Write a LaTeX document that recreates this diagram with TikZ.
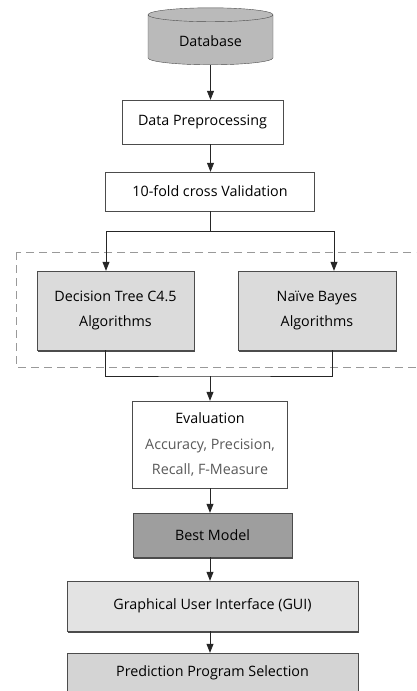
\documentclass[tikz,border=0pt]{standalone}
\usepackage{fontspec}
\setmainfont{Open Sans}
\usetikzlibrary{shapes.geometric,arrows.meta,shadows}

\begin{document}
\begin{tikzpicture}[x=1pt,y=-1pt,
    font=\fontsize{14.3}{25.5}\selectfont,
    box/.style={draw=black!70,rectangle,align=center,inner sep=2pt},
    boxshadow/.style={drop shadow={shadow xshift=.8pt,shadow yshift=-1.6pt,fill=black!70,opacity=1}},
    arr/.style={-{Triangle[length=9pt,width=7pt]},black!85,thick}]
    \path[use as bounding box,clip] (0,0) rectangle (416,691);

    \node[cylinder,shape border rotate=90,draw=black!70,fill=black!27,minimum width=125pt,minimum height=57pt,aspect=0.2] (db) at (210.5,41) {Database};
    \node[box,minimum width=161pt,minimum height=44pt] (prep) at (202.5,122) {Data Preprocessing};
    \node[box,minimum width=209pt,minimum height=39pt] (cv) at (210,191.5) {10-fold cross Validation};

    % the two learners
    \draw[dashed,gray!80,dash pattern=on 8pt off 5pt,thick] (16,252) rectangle (430,367);
    \node[box,boxshadow,fill=black!14,minimum width=157pt,minimum height=79pt] (dt) at (115.5,310.5) {Decision Tree C4.5\\Algorithms};
    \node[box,boxshadow,fill=black!14,minimum width=158pt,minimum height=79pt] (nb) at (317,310.5) {Na\"ive Bayes\\Algorithms};

    \node[box,minimum width=155pt,minimum height=87pt] (eval) at (210,444.5) {Evaluation\\{\color{black!65}Accuracy, Precision,}\\{\color{black!65}Recall, F-Measure}};
    \node[box,boxshadow,fill=black!38,minimum width=159pt,minimum height=44pt] (best) at (212.5,535) {Best Model};
    \node[box,boxshadow,fill=black!11,minimum width=291pt,minimum height=50pt] (gui) at (212.5,606) {Graphical User Interface (GUI)};
    \node[box,fill=black!17,minimum width=291pt,minimum height=40pt] (pred) at (212.5,673) {Prediction Program Selection};

    \coordinate (split) at (210,231);
    \coordinate (merge) at (210,376);

    \draw[arr] (db.south) -- (db.south |- prep.north);
    \draw[arr] (db.south |- prep.south) -- (db.south |- cv.north);
    \draw[black!85,thick] (cv.south) -- (split);
    \draw[arr] (split) -| ([xshift=-9.5pt]dt.north);
    \draw[arr] (split) -| ([xshift=17pt]nb.north);
    \draw[black!85,thick] ([xshift=-10.5pt]dt.south) |- (merge) -| ([xshift=15pt]nb.south);
    \draw[arr] (merge) -- (eval.north);
    \draw[arr] (eval.south) -- (eval.south |- best.north);
    \draw[arr] (eval.south |- best.south) -- (eval.south |- gui.north);
    \draw[arr] (eval.south |- gui.south) -- (eval.south |- pred.north);
\end{tikzpicture}
\end{document}
